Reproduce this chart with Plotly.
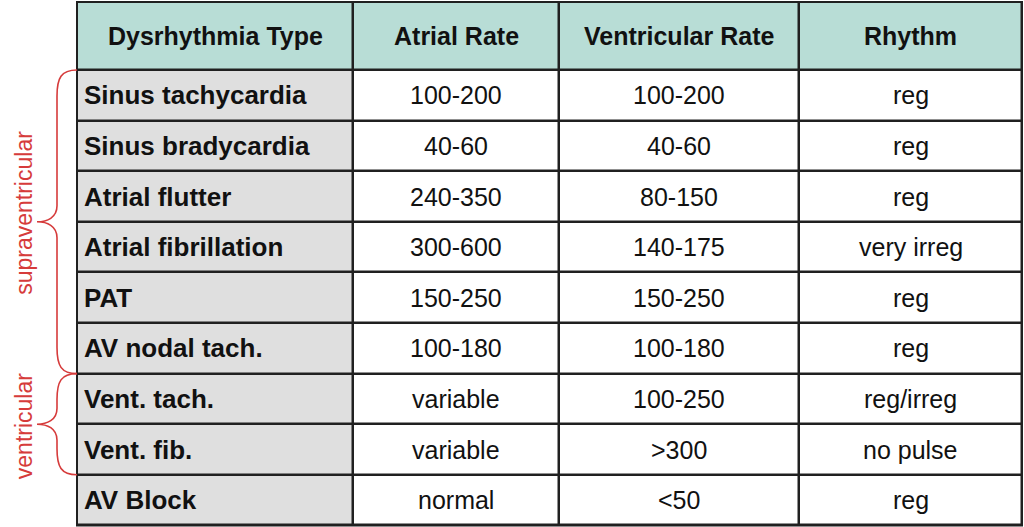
import plotly.graph_objects as go

# table content
headers = ["Dysrhythmia Type", "Atrial Rate", "Ventricular Rate", "Rhythm"]
dysrhythmia = ["Sinus tachycardia", "Sinus bradycardia", "Atrial flutter",
               "Atrial fibrillation", "PAT", "AV nodal tach.", "Vent. tach.",
               "Vent. fib.", "AV Block"]
atrial_rate = ["100-200", "40-60", "240-350", "300-600", "150-250",
               "100-180", "variable", "variable", "normal"]
ventricular_rate = ["100-200", "40-60", "80-150", "140-175", "150-250",
                    "100-180", "100-250", ">300", "<50"]
rhythm = ["reg", "reg", "reg", "very irreg", "reg", "reg", "reg/irreg",
          "no pulse", "reg"]
# brace groups: label, first row, last row
groups = [("supraventricular", 0, 5), ("ventricular", 6, 7)]

columns = [dysrhythmia, atrial_rate, ventricular_rate, rhythm]

# layout (pixel-like axis units)
W, H = 1024, 527
col_edges = [77, 353, 559, 799, 1022]
top, header_h, row_h = 2, 68, 50.6
n_rows = len(dysrhythmia)
row_edges = [top] + [top + header_h + i * row_h for i in range(n_rows + 1)]
label_shift = {"supraventricular": 9, "ventricular": -2}

TEAL = "#b8ddd6"
GREY = "#dfdfdf"
BORDER = "#202020"
RED = "#d63b3b"
FONT = "Liberation Sans, Arial, sans-serif"

# 0 = header, 1 = first column, 2 = other cells
z = [[0] * len(headers)]
for r in range(n_rows):
    z.append([1] + [2] * (len(headers) - 1))

fig = go.Figure()
fig.add_trace(go.Heatmap(
    x=col_edges, y=row_edges, z=z,
    zmin=0, zmax=2,
    colorscale=[[0, TEAL], [0.5, GREY], [1, "#ffffff"]],
    showscale=False, xgap=2.5, ygap=2.5, hoverinfo="skip"
))

shapes = [
    # dark layer below the cells gives the grid lines
    dict(type="rect", x0=col_edges[0], x1=col_edges[-1], y0=row_edges[0],
         y1=row_edges[-1], fillcolor=BORDER, line=dict(width=0), layer="below"),
    dict(type="rect", x0=col_edges[0], x1=col_edges[-1], y0=row_edges[0],
         y1=row_edges[-1], line=dict(color=BORDER, width=2)),
]

annotations = []
for c, h in enumerate(headers):
    annotations.append(dict(
        x=(col_edges[c] + col_edges[c + 1]) / 2,
        y=(row_edges[0] + row_edges[1]) / 2,
        text="<b>" + h + "</b>", showarrow=False,
        font=dict(family=FONT, size=25, color="#111111")
    ))

for c, col in enumerate(columns):
    for r, val in enumerate(col):
        yc = (row_edges[r + 1] + row_edges[r + 2]) / 2
        if c == 0:
            annotations.append(dict(
                x=col_edges[0] + 5, y=yc, xanchor="left",
                text="<b>" + val + "</b>", showarrow=False,
                font=dict(family=FONT, size=26, color="#111111")
            ))
        else:
            annotations.append(dict(
                x=(col_edges[c] + col_edges[c + 1]) / 2, y=yc,
                text=val, showarrow=False,
                font=dict(family=FONT, size=25, color="#111111")
            ))

# curly braces with rotated labels
end_x, spine_x, tip_x = col_edges[0], 57, 37
for label, r0, r1 in groups:
    y0 = row_edges[r0 + 1]
    y1 = row_edges[r1 + 2]
    ym = (y0 + y1) / 2
    path = (f"M {end_x},{y0} C {spine_x + 4},{y0} {spine_x},{y0 + 8} {spine_x},{y0 + 26} "
            f"L {spine_x},{ym - 16} C {spine_x},{ym - 4} {tip_x + 10},{ym} {tip_x},{ym} "
            f"C {tip_x + 10},{ym} {spine_x},{ym + 4} {spine_x},{ym + 16} "
            f"L {spine_x},{y1 - 26} C {spine_x},{y1 - 8} {spine_x + 4},{y1} {end_x},{y1}")
    shapes.append(dict(type="path", path=path, line=dict(color=RED, width=1.6)))
    annotations.append(dict(
        x=24, y=ym, text=label, textangle=-90, showarrow=False,
        yshift=label_shift[label],
        font=dict(family=FONT, size=23, color=RED)
    ))

fig.update_layout(
    width=W, height=H,
    margin=dict(l=0, r=0, t=0, b=0),
    paper_bgcolor="white", plot_bgcolor="white",
    xaxis=dict(range=[0, W], visible=False, fixedrange=True),
    yaxis=dict(range=[H, 0], visible=False, fixedrange=True),
    shapes=shapes, annotations=annotations,
    showlegend=False
)

fig.write_html("out.html", config={"displayModeBar": False},
               post_script="document.body.style.margin='0';")
